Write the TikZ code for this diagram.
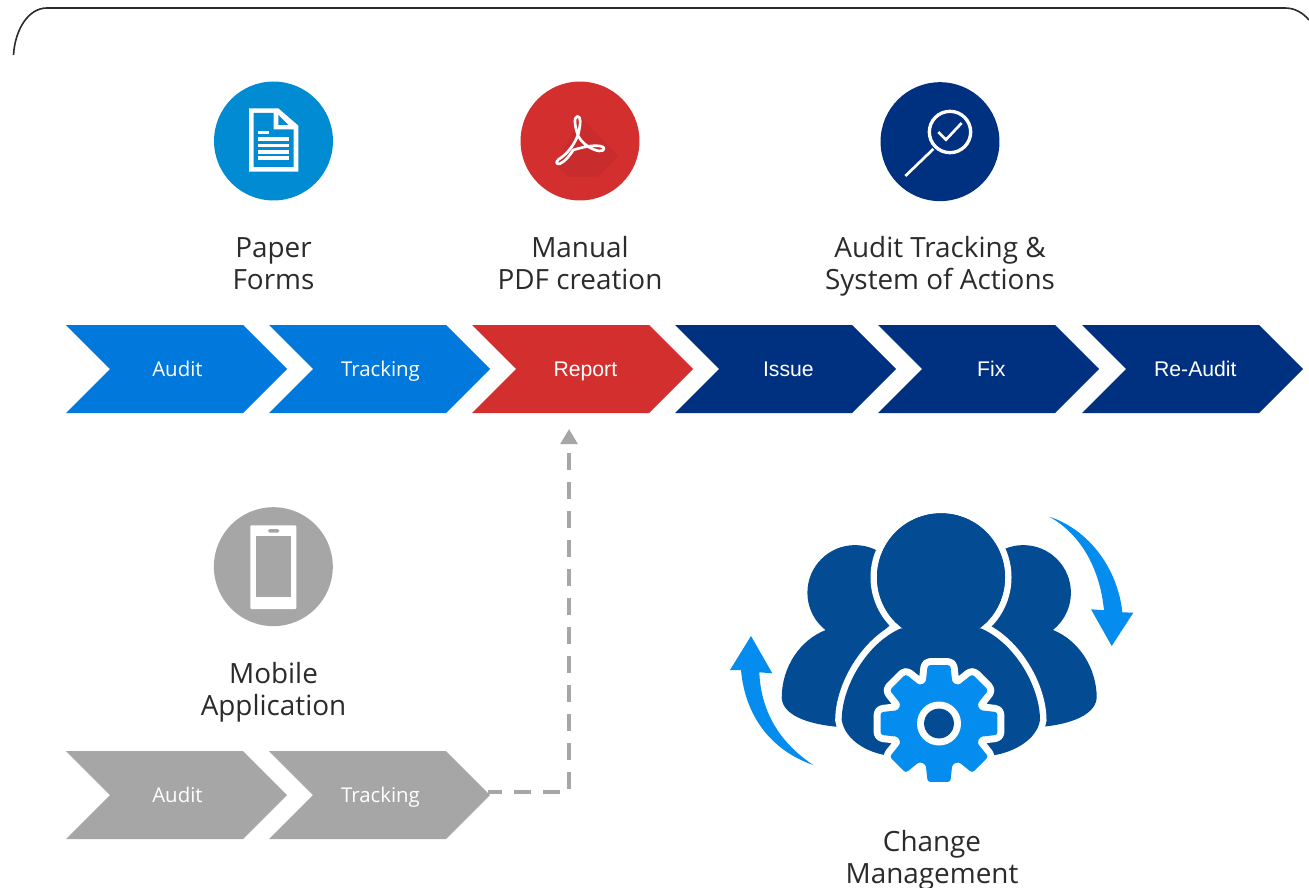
\documentclass[tikz,border=0pt]{standalone}
\usepackage{fontspec}
\setmainfont{Open Sans}
\newfontfamily\arialfont{Liberation Sans}
\usetikzlibrary{arrows.meta}
\definecolor{lightchev}{HTML}{0078DC}
\definecolor{darkchev}{HTML}{003080}
\definecolor{redchev}{HTML}{D32F2F}
\definecolor{greychev}{HTML}{A6A6A6}
\definecolor{docblue}{HTML}{008BD2}
\definecolor{peopleblue}{HTML}{034B93}
\definecolor{gearblue}{HTML}{058CEF}
\definecolor{titlegrey}{HTML}{2B2B2B}
\definecolor{shadowred}{HTML}{C82C2D}
\tikzset{
  chevlabelA/.style={text=white,inner sep=0pt,xshift=-.4pt,font=\fontsize{15.3}{18}\selectfont},
  chevlabelB/.style={text=white,inner sep=0pt,xshift=1pt,font=\arialfont\fontsize{15.9}{18}\selectfont},
  title/.style={text=titlegrey,inner sep=0pt,align=center,font=\fontsize{20.9}{24}\selectfont},
  connector/.style={draw=greychev,line width=3.1pt,dash pattern=on 12.75pt off 9pt,dash phase=2.25pt,-{Triangle[length=11.25pt,width=12.4pt,fill=greychev]}},
  frame/.style={draw=titlegrey,line width=1.2pt},
  iconline/.style={draw=white,line cap=butt,fill=none},
  personshape/.style={fill=peopleblue},
  cutout/.style={fill=peopleblue,preaction={draw=white,line width=9.75pt,miter limit=10}}
}
\newcommand{\chev}[6]{% x, ytop, colour, name, label style, text
  \fill[#3] (#1,#2) -- ++(177,0) -- ++(44,44) -- ++(-44,44) -- ++(-177,0) -- ++(44,-44) -- cycle;
  \node[#5] (#4) at ({#1+112},{#2+47}) {\strut #6};
}
\begin{document}
\begin{tikzpicture}[x=.75pt,y=-.75pt]
\useasboundingbox (0,0) rectangle (1309,888);
\fill[white] (0,0) rectangle (1309,888);
% frame
\draw[frame] (13.5,55) .. controls (15,30) and (28,8) .. (47,8) -- (1285,8) .. controls (1295,8) and (1303,13) .. (1309,20);

% chevrons
\chev{66}{325}{lightchev}{audit}{chevlabelA}{Audit}
\chev{269}{325}{lightchev}{tracking}{chevlabelA}{Tracking}
\chev{472}{325}{redchev}{report}{chevlabelB}{Report}
\chev{675}{325}{darkchev}{issue}{chevlabelB}{Issue}
\chev{878}{325}{darkchev}{fix}{chevlabelB}{Fix}
\chev{1082}{325}{darkchev}{reaudit}{chevlabelB}{Re-Audit}
\chev{66}{751}{greychev}{gaudit}{chevlabelA}{Audit}
\chev{269}{751}{greychev}{gtracking}{chevlabelA}{Tracking}

% titles
\node[title] (t1) at (273.5,266.6) {\strut Paper\\\strut Forms};
\node[title] (t2) at (580,266.6) {\strut Manual\\\strut PDF creation};
\node[title] (t3) at (940,266.6) {\strut Audit Tracking \&\\\strut System of Actions};
\node[title] (t4) at (273.5,692.6) {\strut Mobile\\\strut Application};
\node[title] (t5) at (932,860.6) {\strut Change\\\strut Management};

% connector
\coordinate (gout) at (488,792);
\coordinate (bend) at (569,792);
\coordinate (rin) at (569,429);
\draw[connector] (gout) -- (bend) -- (rin);

% document icon
\begin{scope}[shift={(190,60)},x=.25pt,y=-.25pt]
\fill[docblue] (250.5,243) circle[radius=44.6pt];
\fill[white] (177,145) -- (265,145) -- (325,197) -- (325,335) -- (177,335) -- cycle;
\fill[docblue] (191,159) -- (251,159) -- (251,208) -- (311,208) -- (311,321) -- (191,321) -- cycle;
\fill[docblue] (265,165) -- (295,195) -- (265,195) -- cycle;
\fill[white] (205,213) rectangle (237,222);
\fill[white] (204,232) rectangle (297,243);
\fill[white] (204,251) rectangle (297,262);
\fill[white] (204,270) rectangle (297,281);
\fill[white] (204,289) rectangle (297,300);
% pdf icon
\fill[redchev] (1170,243) circle[radius=44.6pt];
\begin{scope}
\clip (1170,243) circle[radius=44.6pt];
\fill[shadowred] (1172,172) -- (1285,288) -- (1225,350) -- (1135,350) -- (1098,312) -- cycle;
\end{scope}
\draw[iconline,line width=2pt,line join=round]
  (1162,169) .. controls (1174,169) and (1172,190) .. (1165,222)
  .. controls (1155,250) and (1135,280) .. (1106,298)
  .. controls (1095,308) and (1100,314) .. (1110,311)
  .. controls (1125,305) and (1140,285) .. (1150,270)
  .. controls (1175,262) and (1205,255) .. (1230,258)
  .. controls (1248,260) and (1245,274) .. (1228,273)
  .. controls (1205,270) and (1175,250) .. (1165,228)
  .. controls (1155,205) and (1150,169) .. (1162,169) -- cycle;
\end{scope}

% magnifier icon
\begin{scope}[shift={(860,70)},x=.25pt,y=-.25pt]
\fill[darkchev] (240,215) circle[radius=44.6pt];
\draw[iconline,line width=2.5pt] (270,186) circle[radius=15.5pt];
\draw[iconline,line width=2pt] (220,237) -- (136,318);
\draw[iconline,line width=2pt] (235,186) -- (258,209) -- (305,159);
\end{scope}

% phone icon
\begin{scope}[shift={(200,500)},x=.25pt,y=-.25pt]
\fill[greychev] (220,200) circle[radius=44.6pt];
\fill[white,rounded corners=.8pt] (151,76) rectangle (289,327);
\fill[greychev] (169,109) rectangle (272,291);
\fill[greychev,rounded corners=1.3pt] (204,87) rectangle (238,98);
\end{scope}

% curved arrows
\fill[gearblue] (1049.3,516.7) .. controls (1090,530) and (1118,570) .. (1122.3,612.3)
  -- (1133.3,612.7) -- (1111.7,646) -- (1091,609.3) -- (1104,610.3)
  .. controls (1100,570) and (1082,535) .. cycle;
\fill[gearblue] (813.3,765) .. controls (770,750) and (745,715) .. (741,670)
  -- (730,670) -- (751,636) -- (772.3,673.3) -- (759.3,672.3)
  .. controls (761,715) and (783,745) .. cycle;

% side people
\fill[personshape] (855,592.7) circle[radius=35.7pt];
\fill[personshape] (825.7,630) .. controls (800,640) and (781.7,667) .. (781.7,698)
  .. controls (783,717) and (813,725) .. (840,727) -- (880,700) -- (880,620) -- cycle;
\fill[personshape] (1023.3,592.7) circle[radius=35.7pt];
\fill[personshape] (1053,630) .. controls (1078,640) and (1096.7,667) .. (1096.7,698)
  .. controls (1095,717) and (1065,725) .. (1040,727) -- (1000,700) -- (1000,620) -- cycle;

% centre person
\path[cutout] (941,577.3) circle[radius=48pt];
\path[cutout] (901,628.3) .. controls (866.7,643) and (841.7,687) .. (841.7,720)
  .. controls (845,740) and (867,752) .. (885,755) -- (995,755)
  .. controls (1013,752) and (1037,740) .. (1040,720)
  .. controls (1040,687) and (1015,643) .. (980.7,628.3) -- cycle;
\fill[peopleblue] (941,577.3) circle[radius=48pt];

% gear
\begin{scope}[shift={(939,723.5)}]
\fill[gearblue,rounded corners=2pt,preaction={draw=white,line width=10.5pt,line join=round}]
  (-11:59.5) -- (11:59.5) -- (18:43)
  \foreach \a in {45,90,...,315}{ -- ({\a-18}:43) -- ({\a-11}:59.5) -- ({\a+11}:59.5) -- ({\a+18}:43) }
  -- (-18:43) -- cycle;
\fill[white] (0,0) circle[radius=16.5pt];
\fill[peopleblue] (0,0) circle[radius=11.2pt];
\end{scope}
\end{tikzpicture}
\end{document}
